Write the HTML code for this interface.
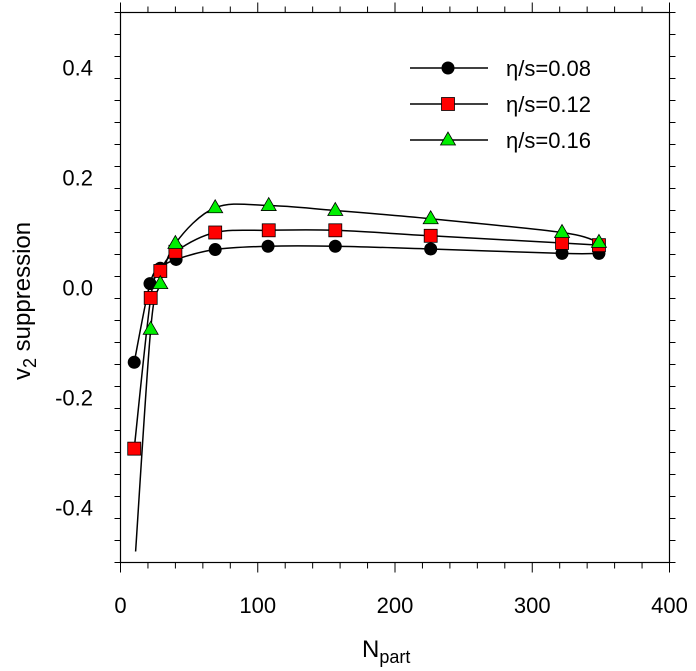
<!DOCTYPE html>
<html><head><meta charset="utf-8"><style>
body{margin:0;background:#fff}
svg{display:block;font-family:"Liberation Sans",sans-serif}
</style></head><body>
<svg id="c" width="696" height="671"></svg>
<script>
const xs08=[10,21.5,29,40.5,69,107.5,156.5,226,321.7,348.6];
const v08=[-0.136,0.007,0.035,0.051,0.069,0.075,0.075,0.070,0.062,0.062];
const xs12=[10,22,29,40,69,108,156.5,226,321.7,348.6];
const v12=[-0.293,-0.019,0.030,0.065,0.100,0.104,0.104,0.094,0.081,0.077];
const xs16=[11,22,29,40,69,108,156.5,226,321.7,348.6];
const v16=[-0.48,-0.076,0.007,0.080,0.145,0.149,0.140,0.125,0.100,0.082];
const m16start=1;
const xTicks=[0,100,200,300,400];
const yTicks=[-0.4,-0.2,0.0,0.2,0.4];
const yTickLabels=["-0.4","-0.2","0.0","0.2","0.4"];
const NS="http://www.w3.org/2000/svg";
const svg=document.getElementById('c');
const L=120.5,R=669.5,T=12.5,B=562.5;
const X=v=>L+(v-0)/400*(R-L);
const Y=v=>B-(v+0.5)/1.0*(B-T);
function el(t,a,p){const e=document.createElementNS(NS,t);for(const k in a)e.setAttribute(k,a[k]);(p||svg).appendChild(e);return e;}
const frame=el('rect',{x:L,y:T,width:R-L,height:B-T,fill:'none',stroke:'#000','stroke-width':1.2});


// ticks
for(let v=0;v<=400;v+=20){const maj=v%100===0;const l=maj?10:6;const x=X(v);
 el('line',{x1:x,x2:x,y1:B,y2:B+l,stroke:'#000'});el('line',{x1:x,x2:x,y1:T,y2:T-l,stroke:'#000'});}
for(let i=-25;i<=25;i+=2){const v=i/50;const maj=Math.abs(i%10)===0;const l=maj?10:6;const y=Y(v);
 el('line',{x1:L,x2:L-l,y1:y,y2:y,stroke:'#000'});el('line',{x1:R,x2:R+l,y1:y,y2:y,stroke:'#000'});}
xTicks.forEach(v=>{const t=el('text',{x:X(v),y:613,'font-size':22,'text-anchor':'middle'});t.textContent=v;
 });
yTicks.forEach((v,i)=>{const t=el('text',{x:93,y:Y(v)+8,'font-size':22,'text-anchor':'end'});t.textContent=yTickLabels[i];
 });
const xt=el('text',{x:362,y:657,'font-size':24});xt.innerHTML='N<tspan font-size="18" dy="6">part</tspan>';

const yt=el('text',{x:0,y:0,'font-size':24,transform:'translate(30,380) rotate(-90)'});yt.innerHTML='v<tspan font-size="18" dy="6">2</tspan><tspan dy="-6"> suppression</tspan>';

function curve(xs,vs,name){const p=xs.map((x,i)=>[X(x),Y(vs[i])]);let d='M'+p[0];
 for(let i=0;i<p.length-1;i++){const p0=p[Math.max(0,i-1)],p1=p[i],p2=p[i+1],p3=p[Math.min(p.length-1,i+2)];
  const c1=[p1[0]+(p2[0]-p0[0])/6,p1[1]+(p2[1]-p0[1])/6],c2=[p2[0]-(p3[0]-p1[0])/6,p2[1]-(p3[1]-p1[1])/6];
  d+='C'+c1+' '+c2+' '+p2;}
 const e=el('path',{d:d,fill:'none',stroke:'#000','stroke-width':1.5});
 }
function marker(kind,x,y,name){let e;
 if(kind==='c')e=el('circle',{cx:x,cy:y,r:6.5,fill:'#000'});
 else if(kind==='s')e=el('rect',{x:x-6.5,y:y-6.5,width:13,height:13,fill:'#f00',stroke:'#000','stroke-width':0.8});
 else e=el('polygon',{points:`${x},${y-8} ${x-7.5},${y+5} ${x+7.5},${y+5}`,fill:'#0e0',stroke:'#000','stroke-width':0.8});
 }
curve(xs08,v08,'curve-eta-0.08');curve(xs12,v12,'curve-eta-0.12');curve(xs16,v16,'curve-eta-0.16');
xs08.forEach((x,i)=>marker('c',X(x),Y(v08[i]),'point-eta-0.08'));
xs12.forEach((x,i)=>marker('s',X(x),Y(v12[i]),'point-eta-0.12'));
xs16.forEach((x,i)=>{if(i>=m16start)marker('t',X(x),Y(v16[i]),'point-eta-0.16');});
// legend
[['c','η/s=0.08',68],['s','η/s=0.12',104],['t','η/s=0.16',140]].forEach(([k,lab,y])=>{
 const g=el('g',{});
 el('line',{x1:410,x2:488,y1:y,y2:y,stroke:'#000','stroke-width':1.5},g);
 marker(k,448,y,'legend-marker');
 const t=el('text',{x:506,y:y+8,'font-size':22},g);t.textContent=lab;});
</script>
</body></html>
